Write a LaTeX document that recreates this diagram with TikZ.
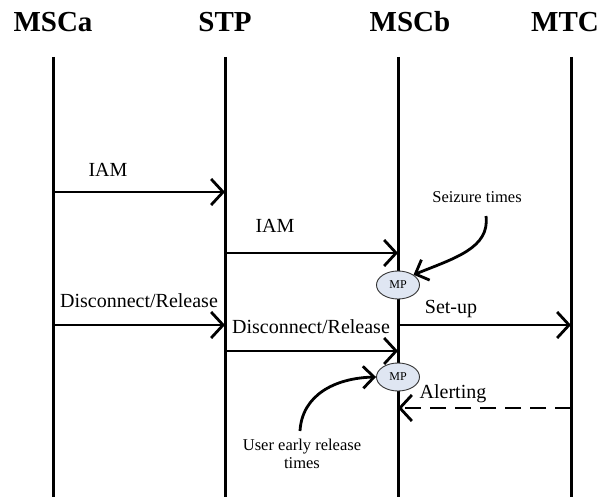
\documentclass[tikz,border=0pt]{standalone}
\usepackage{fontspec}
\setmainfont{Liberation Serif}
\usetikzlibrary{arrows.meta,shapes.geometric}
\definecolor{mpfill}{HTML}{DFE6F2}
\begin{document}
\begin{tikzpicture}[x=1pt,y=-1pt,
  lifeline/.style={line width=3pt},
  msg/.style={line width=2.8pt,-{Straight Barb[length=12pt,width=26pt]}},
  dmsg/.style={msg,dash pattern=on 16pt off 9pt},
  curvearrow/.style={line width=2.8pt,-{Straight Barb[length=11pt,width=22pt]}},
  title/.style={font=\fontsize{29}{34}\selectfont\bfseries,anchor=base,inner sep=0pt},
  lbl/.style={font=\fontsize{20}{24}\selectfont,anchor=base,inner sep=0pt},
  note/.style={font=\fontsize{16.5}{18}\selectfont,anchor=base,inner sep=0pt,align=center},
  mp/.style={ellipse,draw=black!80,line width=0.9pt,fill=mpfill,minimum width=43pt,minimum height=28pt,inner sep=0pt,font=\fontsize{12}{14}\selectfont}]
\useasboundingbox (0,0) rectangle (605,497);
% titles
\node[title] (tA) at (53,32) {MSCa};
\node[title] (tS) at (225,32) {STP};
\node[title] (tB) at (410,32) {MSCb};
\node[title] (tM) at (565,32) {MTC};
% lifelines
\coordinate (A0) at (53,57);  \coordinate (A1) at (53,497);
\coordinate (S0) at (225,57); \coordinate (S1) at (225,497);
\coordinate (B0) at (398,57); \coordinate (B1) at (398,497);
\coordinate (M0) at (571,57); \coordinate (M1) at (571,497);
\draw[lifeline] (A0) -- (A1);
\draw[lifeline] (S0) -- (S1);
\draw[lifeline] (B0) -- (B1);
\draw[lifeline] (M0) -- (M1);
% message endpoints
\coordinate (a1) at (53,192);  \coordinate (s1) at (225,192);
\coordinate (s2) at (225,253); \coordinate (b2) at (398,253);
\coordinate (a3) at (53,325);  \coordinate (s3) at (225,325);
\coordinate (b3) at (398,325); \coordinate (m3) at (571,325);
\coordinate (s4) at (225,351); \coordinate (b4) at (398,351);
\coordinate (m5) at (571,408); \coordinate (b5) at (398,408);
% messages
\draw[msg] (a1) -- (s1);
\node[lbl] (l1) at (108,177) {IAM};
\draw[msg] (s2) -- (b2);
\node[lbl] (l2) at (275,233) {IAM};
\draw[msg] (a3) -- (s3);
\node[lbl] (l3) at (139,307) {Disconnect/Release};
\draw[msg] (b3) -- (m3);
\node[lbl] (l4) at (451,313) {Set-up};
\draw[msg] (s4) -- (b4);
\node[lbl] (l5) at (311,333) {Disconnect/Release};
\draw[dmsg] (m5) -- (b5);
\node[lbl] (l6) at (453,398) {Alerting};
% measurement points
\node[mp] (mp1) at (398,285) {MP};
\node[mp] (mp2) at (398,377) {MP};
% notes
\node[note] (seiz) at (477,203) {Seizure times};
\coordinate (seizstart) at (486,216);
\draw[curvearrow] (seizstart) .. controls (490,248) and (455,258) .. (mp1.north east);
\node[note] (uer) at (302,468) {User early release\\times};
\coordinate (uerstart) at (300,431);
\draw[curvearrow] (uerstart) .. controls (302,395) and (335,378) .. (mp2.west);
\end{tikzpicture}
\end{document}
